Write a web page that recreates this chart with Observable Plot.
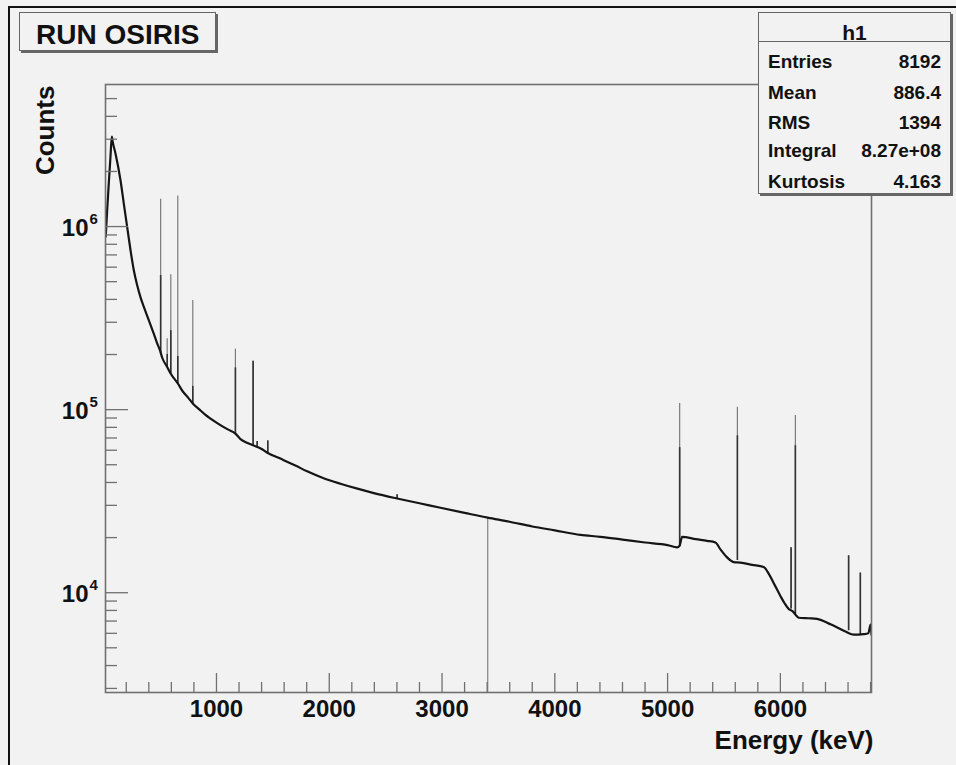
<!DOCTYPE html>
<html>
<head>
<meta charset="utf-8">
<script src="https://cdn.jsdelivr.net/npm/d3@7"></script>
<script src="https://cdn.jsdelivr.net/npm/@observablehq/plot@0.6"></script>
<style>
  html, body { margin: 0; padding: 0; background: #f2f2f2; }
  body { width: 956px; height: 765px; position: relative; overflow: hidden;
         font-family: "Liberation Sans", Arial, Helvetica, sans-serif; font-weight: bold; color: #111; }
  #outer { position: absolute; left: 8px; top: 6px; right: -10px; bottom: -10px;
           border-left: 2px solid #111; border-top: 2px solid #111; pointer-events: none; }
  #chart { position: absolute; left: 0; top: 0; }
  .box { position: absolute; background: #f2f2f2; border: 1.5px solid #666; box-shadow: 2px 2px 0 #666; box-sizing: border-box; }
  .t { position: absolute; white-space: nowrap; }
</style>
</head>
<body>
<div id="chart"></div>
<div id="outer"></div>
<div id="titlebox" class="box" style="left:19px; top:12px; width:197px; height:39px;"></div>
<div id="statbox" class="box" style="left:758px; top:12px; width:193px; height:182px;"></div>
<script>
// ---------- data ----------
const titleText = "RUN OSIRIS";
const statTitle = "h1";
const statNames = ["Entries", "Mean", "RMS", "Integral", "Kurtosis"];
const statValues = ["8192", "886.4", "1394", "8.27e+08", "4.163"];

// continuum of the spectrum (keV, counts)
const contEnergy = [18, 30, 45, 60, 72, 80, 105, 149, 178, 208, 238, 267, 297, 326, 356, 400, 444, 474, 500, 519,
  563, 595, 657, 700, 750, 790, 850, 900, 1000, 1100, 1168, 1213, 1270, 1325, 1400, 1455, 1567, 1700, 1804, 1950,
  2099, 2250, 2395, 2602, 2800, 2986, 3200, 3405, 3600, 3800, 4000, 4227, 4404, 4600, 4800, 5000, 5084, 5105, 5129,
  5250, 5350, 5424, 5470, 5527, 5586, 5645, 5750, 5852, 5900, 5950, 6000, 6040, 6074, 6110, 6150, 6162, 6250, 6325,
  6450, 6577, 6650, 6738, 6780, 6800, 6808];
const contCounts = [8.8e5, 1.2e6, 1.72e6, 2.4e6, 3.1e6, 2.9e6, 2.5e6, 1.79e6, 1.34e6, 9.96e5, 7.42e5, 5.77e5, 4.78e5,
  4.12e5, 3.64e5, 3.08e5, 2.6e5, 2.3e5, 2.1e5, 1.92e5, 1.71e5, 1.57e5, 1.39e5, 1.26e5, 1.16e5, 1.08e5, 1.0e5, 9.4e4,
  8.5e4, 7.8e4, 7.4e4, 6.9e4, 6.6e4, 6.38e4, 6.1e4, 5.8e4, 5.4e4, 4.95e4, 4.6e4, 4.22e4, 3.94e4, 3.7e4, 3.5e4, 3.27e4,
  3.08e4, 2.91e4, 2.73e4, 2.57e4, 2.44e4, 2.3e4, 2.19e4, 2.07e4, 2.02e4, 1.95e4, 1.88e4, 1.82e4, 1.77e4, 1.8e4, 2.02e4,
  1.96e4, 1.92e4, 1.88e4, 1.72e4, 1.56e4, 1.47e4, 1.46e4, 1.42e4, 1.38e4, 1.26e4, 1.1e4, 9.6e3, 8.7e3, 8.15e3, 7.9e3,
  7.4e3, 7.3e3, 7.25e3, 7.2e3, 6.7e3, 6.14e3, 5.9e3, 5.94e3, 6.0e3, 6.7e3, 5.9e3];

// gamma lines (keV) with base, dense core and top counts
const peakEnergy = [505, 563, 595, 657, 790, 1168, 1325, 1361, 1455, 2602, 5107, 5619, 6095, 6133, 6605, 6709];
const peakBase   = [2.0e5, 1.71e5, 1.57e5, 1.39e5, 1.08e5, 7.4e4, 6.38e4, 6.25e4, 5.8e4, 3.27e4, 1.8e4, 1.5e4, 8.15e3, 7.5e3, 6.2e3, 5.9e3];
const peakCore   = [5.4e5, 2.0e5, 2.7e5, 1.95e5, 1.34e5, 1.69e5, 1.84e5, 6.7e4, 6.75e4, 3.43e4, 6.2e4, 7.2e4, 1.76e4, 6.35e4, 1.59e4, 1.28e4];
const peakTop    = [1.41e6, 2.44e5, 5.45e5, 1.47e6, 3.94e5, 2.14e5, 1.84e5, 6.7e4, 6.75e4, 3.43e4, 1.08e5, 1.03e5, 1.76e4, 9.3e4, 1.59e4, 1.28e4];

// empty channel (drops off the log axis)
const dipEnergy = [3405];
const dipFrom = [2.57e4];
const dipTo = [1];

// axes
const xDomain = [16, 6808];
const yDomain = [2850, 5.97e6];
const xTickLabels = [1000, 2000, 3000, 4000, 5000, 6000];
const xMinorTicks = [200, 400, 600, 800, 1200, 1400, 1600, 1800, 2200, 2400, 2600, 2800, 3200, 3400, 3600, 3800,
  4200, 4400, 4600, 4800, 5200, 5400, 5600, 5800, 6200, 6400, 6600, 6800];
const yMajorTicks = [1e4, 1e5, 1e6];
const yMinorTicks = [3e3, 4e3, 5e3, 6e3, 7e3, 8e3, 9e3, 2e4, 3e4, 4e4, 5e4, 6e4, 7e4, 8e4, 9e4,
  2e5, 3e5, 4e5, 5e5, 6e5, 7e5, 8e5, 9e5, 2e6, 3e6, 4e6, 5e6];
const xTitle = "Energy (keV)";
const yTitle = "Counts";

// ---------- build ----------
const spectrum = contEnergy.map((e, i) => ({e, c: contCounts[i]}));
const peaks = peakEnergy.map((e, i) => ({e, base: peakBase[i], core: peakCore[i], top: peakTop[i]}));
const dips = dipEnergy.map((e, i) => ({e, from: dipFrom[i], to: dipTo[i]}));

const W = 956, H = 765, mL = 105, mR = 85, mT = 84, mB = 73;
const fw = W - mL - mR, fh = H - mT - mB;
const font = "'Liberation Sans', Arial, Helvetica, sans-serif";
const tickColor = "#707070";

const chart = Plot.plot({
  width: W, height: H,
  marginLeft: mL, marginRight: mR, marginTop: mT, marginBottom: mB,
  style: {background: "transparent", fontFamily: font, color: "#111", overflow: "visible"},
  x: {domain: xDomain},
  y: {type: "log", domain: yDomain, axis: null},
  marks: [
    Plot.ruleX(dips, {x: "e", y1: "to", y2: "from", stroke: "#8a8a8a", strokeWidth: 1.3, clip: true}),
    Plot.ruleX(peaks, {x: "e", y1: "base", y2: "top", stroke: "#7a7a7a", strokeWidth: 1.2, clip: true}),
    Plot.ruleX(peaks, {x: "e", y1: "base", y2: "core", stroke: "#333", strokeWidth: 1.6, clip: true}),
    Plot.line(spectrum, {x: "e", y: "c", stroke: "#151515", strokeWidth: 2.2, curve: "monotone-x", clip: true}),
    // inward ticks
    Plot.tickY(yMinorTicks, {y: d => d, insetRight: fw - 12, stroke: tickColor, strokeWidth: 1.3}),
    Plot.tickY(yMajorTicks, {y: d => d, insetRight: fw - 23, stroke: tickColor, strokeWidth: 1.3}),
    Plot.tickX(xMinorTicks, {x: d => d, insetTop: fh - 10, stroke: tickColor, strokeWidth: 1.3}),
    Plot.tickX(xTickLabels, {x: d => d, insetTop: fh - 19, stroke: tickColor, strokeWidth: 1.3}),
    Plot.frame({stroke: tickColor, strokeWidth: 1.6}),
    // x tick labels
    Plot.axisX(xTickLabels, {tickSize: 0, tickPadding: 7, fontSize: 24, fontWeight: "bold", fill: "#111",
      tickFormat: d => String(d), label: null}),
    // y tick labels 10^n
    Plot.text(yMajorTicks, {y: d => d, frameAnchor: "left", text: () => "10", textAnchor: "end",
      lineAnchor: "bottom", dx: -17, dy: 9, fontSize: 24, fontWeight: "bold", fill: "#111"}),
    Plot.text(yMajorTicks, {y: d => d, frameAnchor: "left", text: d => String(Math.round(Math.log10(d))),
      textAnchor: "start", lineAnchor: "bottom", dx: -16, dy: -2.5, fontSize: 15, fontWeight: "bold", fill: "#111"}),
    // axis titles
    Plot.text([xTitle], {text: d => d, frameAnchor: "bottom-right", textAnchor: "end", lineAnchor: "bottom",
      dx: 2, dy: 56, fontSize: 26, fontWeight: "bold", fill: "#111"}),
    Plot.text([yTitle], {text: d => d, frameAnchor: "top-left", rotate: -90, textAnchor: "end", lineAnchor: "bottom",
      dx: -52, dy: 1, fontSize: 26, fontWeight: "bold", fill: "#111"})
  ]
});
document.getElementById("chart").appendChild(chart);

// ---------- title box and statistics box ----------
function placeText(parent, txt, size, baselineY, opts) {
  const s = document.createElement("span");
  s.className = "t";
  s.textContent = txt;
  s.style.fontSize = size + "px";
  s.style.lineHeight = size + "px";
  s.style.top = (baselineY - 0.8465 * size) + "px";
  Object.assign(s.style, opts);
  parent.appendChild(s);
}
const body = document.body;
placeText(body, titleText, 28, 45, {left: "36px"});
placeText(body, statTitle, 21, 40, {left: "758px", width: "193px", textAlign: "center"});
const sep = document.createElement("div");
Object.assign(sep.style, {position: "absolute", left: "758px", width: "193px", top: "41px", height: "0", borderTop: "1.5px solid #666"});
body.appendChild(sep);
const rowBase = [68, 99, 129, 157, 188];
statNames.forEach((n, i) => {
  placeText(body, n, 19, rowBase[i], {left: "768px"});
  placeText(body, statValues[i], 19, rowBase[i], {right: (956 - 941) + "px"});
});
</script>
</body>
</html>
